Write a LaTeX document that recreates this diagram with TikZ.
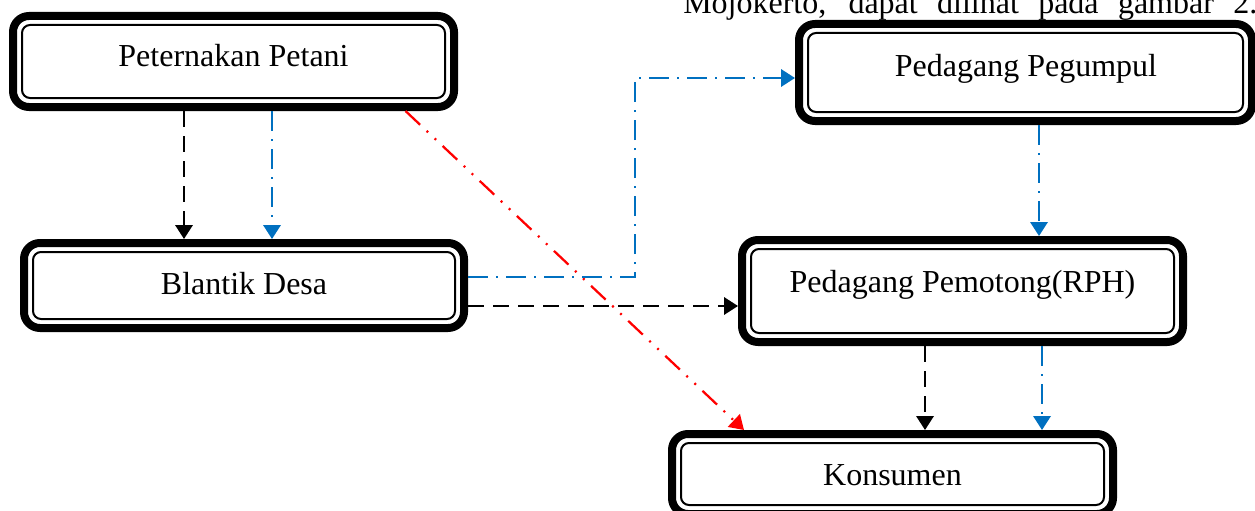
\documentclass[tikz,border=0pt]{standalone}
\usepackage{fontspec}
\setmainfont{Liberation Serif}
\usetikzlibrary{arrows.meta,calc}
\definecolor{lineblue}{HTML}{0070C0}
\definecolor{linered}{HTML}{FF0000}
\tikzset{
  box/.style={rectangle, draw=black, line width=6pt, rounded corners=12pt, fill=white, inner sep=0pt},
  boxinner/.style={draw=black, line width=1.5pt, rounded corners=6pt},
  lbl/.style={anchor=base, font=\fontsize{24}{28}\selectfont, inner sep=0pt},
  tip/.style={-{Triangle[width=13pt,length=10.5pt]}},
  blackflow/.style={tip, draw=black, line width=1.8pt, dash pattern=on 12pt off 6.75pt},
  blueflow/.style={tip, draw=lineblue, line width=1.8pt, dash pattern=on 15pt off 6pt on 1.5pt off 6pt},
  redflow/.style={tip, draw=linered, line width=1.7pt, dash pattern=on 15pt off 6.75pt on 1.5pt off 6.75pt on 1.5pt off 6.75pt},
}
\newcommand\innerframe[1]{\draw[boxinner] ([xshift=9.75pt,yshift=-9.75pt]#1.north west) rectangle ([xshift=-9.75pt,yshift=9.75pt]#1.south east);}
\begin{document}
\begin{tikzpicture}[x=0.75pt,y=-0.75pt]
\useasboundingbox (0,0) rectangle (1255,510);
% caption fragment at top (cut off by the picture edge, as in the reference)
\node[lbl, anchor=base west] (cap) at (683,14) {\makebox[430.5pt][s]{Mojokerto, dapat dilihat pada gambar 2.}};
% boxes
\node[box, minimum width=330.75pt, minimum height=68.25pt] (b1) at (233.5,61.5) {};
\node[box, minimum width=330pt, minimum height=63.75pt] (b2) at (244,285.5) {};
\node[box, minimum width=339.75pt, minimum height=72.75pt] (b3) at (1025.5,72.5) {};
\node[box, minimum width=330.75pt, minimum height=76.5pt] (b4) at (962.5,291) {};
\node[box, minimum width=330.75pt, minimum height=60pt] (b5) at (892.5,474) {};
\innerframe{b1}
\innerframe{b2}
\innerframe{b3}
\innerframe{b4}
\innerframe{b5}
% labels
\node[lbl] (t1) at (233.5,67) {Peternakan Petani};
\node[lbl] (t2) at (244,294) {Blantik Desa};
\node[lbl] (t3) at (1026,77) {Pedagang Pegumpul};
\node[lbl] (t4) at (962.5,292) {Pedagang Pemotong(RPH)};
\node[lbl] (t5) at (892.5,485) {Konsumen};
% connectors
\draw[blackflow] (b1.south -| 184,0) -- (b2.north -| 184,0);
\draw[blueflow] (b1.south -| 272,0) -- (b2.north -| 272,0);
\draw[redflow] (b1.south -| 405.5,0) -- (b5.north -| 744,0);
\draw[blueflow] (b2.east |- 0,277) -| (635,78) -- (b3.west |- 0,78);
\draw[blackflow] (b2.east |- 0,306) -- (b4.west |- 0,306);
\draw[blueflow] (b3.south -| 1039,0) -- (b4.north -| 1039,0);
\draw[blackflow] (b4.south -| 925,0) -- (b5.north -| 925,0);
\draw[blueflow] (b4.south -| 1042,0) -- (b5.north -| 1042,0);
\end{tikzpicture}
\end{document}
